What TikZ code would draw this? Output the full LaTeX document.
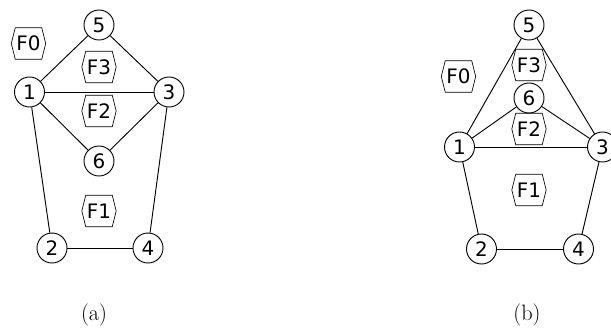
\documentclass[tikz,border=0pt]{standalone}
\usepackage{fontspec}
\newfontfamily\graphfont{DejaVu Sans}
\usetikzlibrary{shapes.symbols}

\begin{document}
\begin{tikzpicture}[x=0.03cm,y=-0.03cm,
  vertex/.style={circle,draw,line width=.8pt,minimum size=0.9cm,inner sep=0pt,
    font=\graphfont\fontsize{17}{18}\selectfont},
  face/.style={signal,signal to=east and west,signal pointer angle=152,draw,
    line width=.6pt,minimum height=0.95cm,minimum width=0.93cm,inner sep=1pt,
    font=\graphfont\fontsize{17}{18}\selectfont},
  edge/.style={line width=.8pt},
  caption/.style={font=\fontsize{19}{20}\selectfont}]
  \useasboundingbox (0,0) rectangle (611,331);
  % Drawing (a): the pentagon 1-5-3-4-2 with 6 inside, below the chord 1-3.
  \foreach \n/\x/\y in {5/99/25,1/29.5/92,3/169/92,6/99/161,2/52/248,4/148/248}
    \node[vertex] (a\n) at (\x,\y) {\n};
  \foreach \f/\x/\y in {0/28.5/43.5,3/99/67,2/99/111,1/99/211}
    \node[face] (fa\f) at (\x,\y) {F\f};
  \foreach \u/\v in {1/5,5/3,1/3,1/6,6/3,1/2,2/4,4/3}
    \draw[edge] (a\u) -- (a\v);
  % Drawing (b): same graph, 6 now lies above the chord 1-3.
  \foreach \n/\x/\y in {5/529/25,6/529/98,1/459.5/147,3/602.5/147,2/481.5/249,4/578.5/249}
    \node[vertex] (b\n) at (\x,\y) {\n};
  \foreach \f/\x/\y in {0/458.5/76.5,3/529/65,2/529/129,1/529/190}
    \node[face] (fb\f) at (\x,\y) {F\f};
  \foreach \u/\v in {1/5,5/3,1/3,1/6,6/3,1/2,2/4,4/3}
    \draw[edge] (b\u) -- (b\v);
  % Captions.
  \node[caption] (capa) at (94,315) {(a)};
  \node[caption] (capb) at (527,315) {(b)};
\end{tikzpicture}
\end{document}
